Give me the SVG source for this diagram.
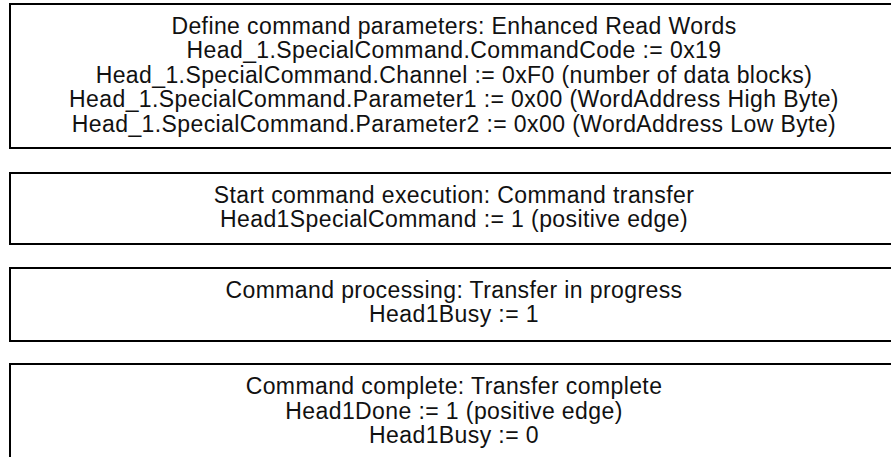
<svg xmlns="http://www.w3.org/2000/svg" width="891" height="457" viewBox="0 0 891 457">
<style>
.box{fill:#fff;stroke:#000;stroke-width:2}
.t{font-family:"Liberation Sans",Arial,Helvetica,sans-serif;font-size:23px;letter-spacing:0.4px;fill:#111;text-anchor:middle}
</style>
<rect width="891" height="457" fill="#fff"/>
<g id="connectors"></g>
<g id="node1">
<rect class="box" x="10" y="4" width="890" height="144"/>
<text class="t" x="454" y="33.5">Define command parameters: Enhanced Read Words</text>
<text class="t" x="454" y="58">Head_1.SpecialCommand.CommandCode := 0x19</text>
<text class="t" x="454" y="82.5">Head_1.SpecialCommand.Channel := 0xF0 (number of data blocks)</text>
<text class="t" x="454" y="107">Head_1.SpecialCommand.Parameter1 := 0x00 (WordAddress High Byte)</text>
<text class="t" x="454" y="131.5">Head_1.SpecialCommand.Parameter2 := 0x00 (WordAddress Low Byte)</text>
</g>
<g id="node2">
<rect class="box" x="10" y="173" width="890" height="71"/>
<text class="t" x="454" y="203">Start command execution: Command transfer</text>
<text class="t" x="454" y="227">Head1SpecialCommand := 1 (positive edge)</text>
</g>
<g id="node3">
<rect class="box" x="10" y="268" width="890" height="73"/>
<text class="t" x="454" y="298">Command processing: Transfer in progress</text>
<text class="t" x="454" y="322">Head1Busy := 1</text>
</g>
<g id="node4">
<rect class="box" x="10" y="364" width="890" height="110"/>
<text class="t" x="454" y="394">Command complete: Transfer complete</text>
<text class="t" x="454" y="418.5">Head1Done := 1 (positive edge)</text>
<text class="t" x="454" y="443">Head1Busy := 0</text>
</g>
</svg>
